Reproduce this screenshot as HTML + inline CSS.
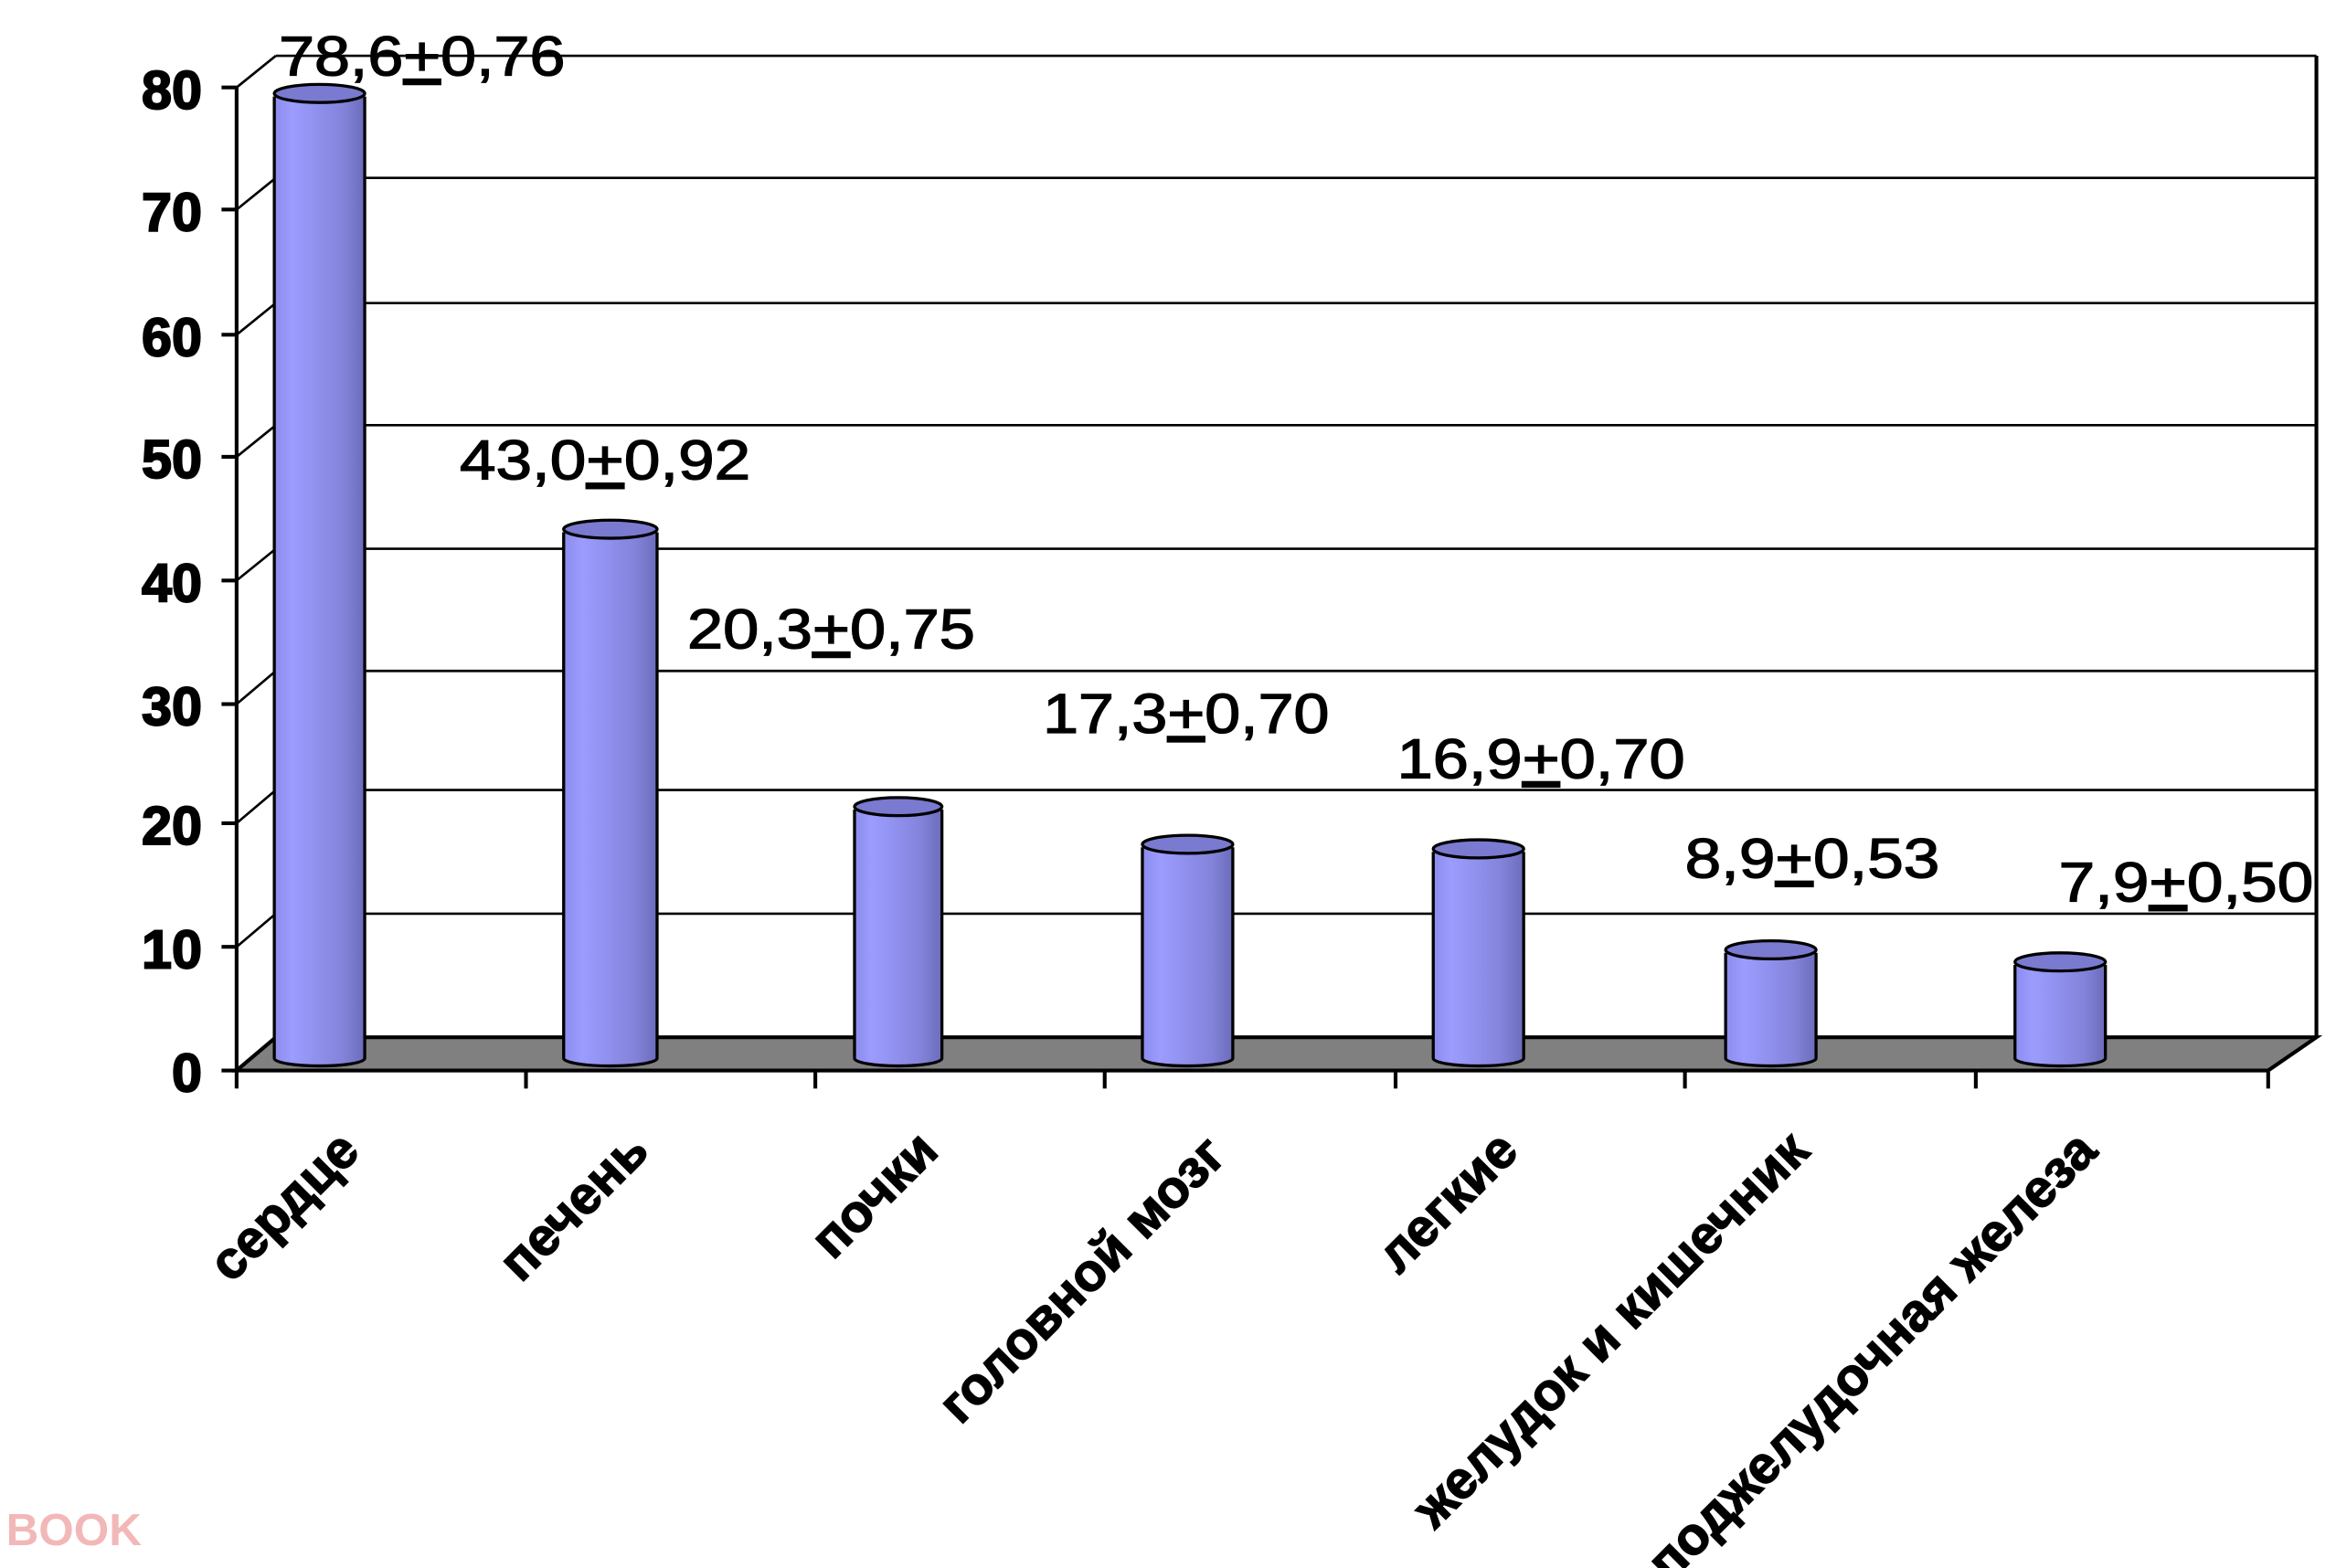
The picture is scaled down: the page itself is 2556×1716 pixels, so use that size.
<!DOCTYPE html>
<html><head><meta charset="utf-8"><style>html,body{margin:0;padding:0;background:#fff;}svg{display:block;}</style></head>
<body>
<svg width="2556" height="1716" viewBox="0 0 1550 1040" preserveAspectRatio="none" xmlns="http://www.w3.org/2000/svg" font-family="Liberation Sans, DejaVu Sans, sans-serif">
<defs>
<linearGradient id="g" x1="0" x2="1" y1="0" y2="0">
<stop offset="0" stop-color="#8c8cee"/><stop offset="0.2" stop-color="#9c9cff"/><stop offset="0.75" stop-color="#8484dc"/><stop offset="1" stop-color="#6c6cbb"/>
</linearGradient>
</defs>
<polygon points="157,710 183,688 1537,688 1505,710" fill="#808080" stroke="#000" stroke-width="2.5"/>
<g stroke="#000" stroke-width="1.6" fill="none">
<line x1="183" y1="37" x2="1537" y2="37"/>
<line x1="183" y1="118" x2="1537" y2="118"/>
<line x1="183" y1="201" x2="1537" y2="201"/>
<line x1="183" y1="282" x2="1537" y2="282"/>
<line x1="183" y1="364" x2="1537" y2="364"/>
<line x1="183" y1="445" x2="1537" y2="445"/>
<line x1="183" y1="524" x2="1537" y2="524"/>
<line x1="183" y1="606" x2="1537" y2="606"/>
<line x1="1537" y1="37" x2="1537" y2="688" stroke-width="2.5"/>
<line x1="157" y1="58" x2="183" y2="37"/>
<line x1="157" y1="139" x2="183" y2="118"/>
<line x1="157" y1="222" x2="183" y2="201"/>
<line x1="157" y1="303" x2="183" y2="282"/>
<line x1="157" y1="385" x2="183" y2="364"/>
<line x1="157" y1="467" x2="183" y2="445"/>
<line x1="157" y1="546" x2="183" y2="524"/>
<line x1="157" y1="628" x2="183" y2="606"/>
</g>
<g stroke="#000" stroke-width="2.5">
<line x1="157" y1="58" x2="157" y2="722"/>
<line x1="147" y1="58" x2="157" y2="58"/><line x1="147" y1="139" x2="157" y2="139"/>
<line x1="147" y1="222" x2="157" y2="222"/><line x1="147" y1="303" x2="157" y2="303"/>
<line x1="147" y1="385" x2="157" y2="385"/><line x1="147" y1="467" x2="157" y2="467"/>
<line x1="147" y1="546" x2="157" y2="546"/><line x1="147" y1="628" x2="157" y2="628"/>
<line x1="147" y1="710" x2="157" y2="710"/>
<line x1="349" y1="710" x2="349" y2="722"/><line x1="541" y1="710" x2="541" y2="722"/>
<line x1="733" y1="710" x2="733" y2="722"/><line x1="926" y1="710" x2="926" y2="722"/>
<line x1="1118" y1="710" x2="1118" y2="722"/><line x1="1311" y1="710" x2="1311" y2="722"/>
<line x1="1505" y1="710" x2="1505" y2="722"/>
</g>
<g font-size="36" font-weight="bold" text-anchor="end" fill="#000" stroke="#000" stroke-width="1.2">
<text x="134" y="72">80</text><text x="134" y="153">70</text><text x="134" y="236">60</text>
<text x="134" y="317">50</text><text x="134" y="399">40</text><text x="134" y="481">30</text>
<text x="134" y="560">20</text><text x="134" y="642">10</text><text x="134" y="724">0</text>
</g>
<g stroke="#000" stroke-width="2">
<path d="M182,64 L182,702 A30,5 0 0 0 242,702 L242,64" fill="url(#g)"/><ellipse cx="212" cy="62" rx="30" ry="6" fill="#7a7ad0"/>
<path d="M374,353 L374,702 A31,5 0 0 0 436,702 L436,353" fill="url(#g)"/><ellipse cx="405" cy="351" rx="31" ry="6" fill="#7a7ad0"/>
<path d="M567,537 L567,702 A29,5 0 0 0 625,702 L625,537" fill="url(#g)"/><ellipse cx="596" cy="535" rx="29" ry="6" fill="#7a7ad0"/>
<path d="M758,562 L758,702 A30,5 0 0 0 818,702 L818,562" fill="url(#g)"/><ellipse cx="788" cy="560" rx="30" ry="6" fill="#7a7ad0"/>
<path d="M951,565 L951,702 A30,5 0 0 0 1011,702 L1011,565" fill="url(#g)"/><ellipse cx="981" cy="563" rx="30" ry="6" fill="#7a7ad0"/>
<path d="M1145,632 L1145,702 A30,5 0 0 0 1205,702 L1205,632" fill="url(#g)"/><ellipse cx="1175" cy="630" rx="30" ry="6" fill="#7a7ad0"/>
<path d="M1337,640 L1337,702 A30,5 0 0 0 1397,702 L1397,640" fill="url(#g)"/><ellipse cx="1367" cy="638" rx="30" ry="6" fill="#7a7ad0"/>
</g>
<g font-size="37" fill="#000" stroke="#000" stroke-width="0.8">
<text x="185" y="50" textLength="190" lengthAdjust="spacingAndGlyphs">78,6<tspan text-decoration="underline">+</tspan>0,76</text>
<text x="305" y="318" textLength="193" lengthAdjust="spacingAndGlyphs">43,0<tspan text-decoration="underline">+</tspan>0,92</text>
<text x="456" y="430" textLength="191" lengthAdjust="spacingAndGlyphs">20,3<tspan text-decoration="underline">+</tspan>0,75</text>
<text x="692" y="486" textLength="190" lengthAdjust="spacingAndGlyphs">17,3<tspan text-decoration="underline">+</tspan>0,70</text>
<text x="927" y="516" textLength="191" lengthAdjust="spacingAndGlyphs">16,9<tspan text-decoration="underline">+</tspan>0,70</text>
<text x="1118" y="582" textLength="169" lengthAdjust="spacingAndGlyphs">8,9<tspan text-decoration="underline">+</tspan>0,53</text>
<text x="1366" y="598" textLength="169" lengthAdjust="spacingAndGlyphs">7,9<tspan text-decoration="underline">+</tspan>0,50</text>
</g>
<g font-size="35" font-weight="bold" text-anchor="end" fill="#000" stroke="#000" stroke-width="0.9">
<text transform="translate(240,765) rotate(-45)">сердце</text>
<text transform="translate(432,765) rotate(-45)">печень</text>
<text transform="translate(624,765) rotate(-45)">почки</text>
<text transform="translate(815,768) rotate(-45)">головной мозг</text>
<text transform="translate(1009,765) rotate(-45)">легкие</text>
<text transform="translate(1202,765) rotate(-45)">желудок и кишечник</text>
<text transform="translate(1393,765) rotate(-45)">поджелудочная железа</text>
</g>
<text x="4" y="1025" font-size="30" font-weight="bold" fill="#f2b8b8">BOOK</text>
</svg>
</body></html>
